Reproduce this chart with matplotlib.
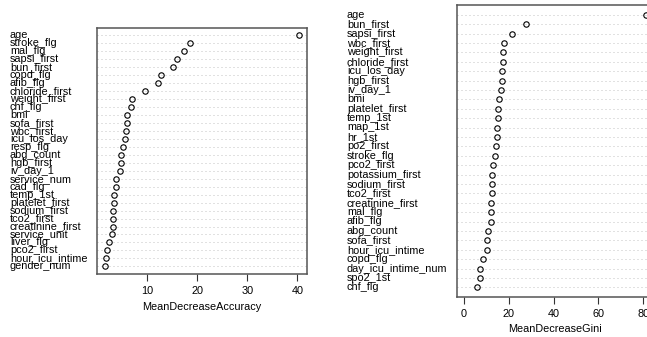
import matplotlib
matplotlib.use("Agg")
import matplotlib.pyplot as plt
import matplotlib.transforms as mtransforms

plt.rcParams['font.family'] = ['Liberation Sans', 'DejaVu Sans']

# MeanDecreaseAccuracy (top to bottom)
acc_names = ["age", "stroke_flg", "mal_flg", "sapsi_first", "bun_first", "copd_flg",
             "afib_flg", "chloride_first", "weight_first", "chf_flg", "bmi", "sofa_first",
             "wbc_first", "icu_los_day", "resp_flg", "abg_count", "hgb_first", "iv_day_1",
             "service_num", "cad_flg", "temp_1st", "platelet_first", "sodium_first",
             "tco2_first", "creatinine_first", "service_unit", "liver_flg", "pco2_first",
             "hour_icu_intime", "gender_num"]
acc_vals = [40.4, 18.5, 17.4, 16.0, 15.2, 12.8, 12.2, 9.5, 7.0, 6.7, 5.9, 5.9,
            5.8, 5.5, 5.1, 4.8, 4.7, 4.6, 3.8, 3.8, 3.3, 3.3, 3.2, 3.2, 3.1, 3.0,
            2.3, 1.9, 1.7, 1.5]

# MeanDecreaseGini (top to bottom)
gini_names = ["age", "bun_first", "sapsi_first", "wbc_first", "weight_first",
              "chloride_first", "icu_los_day", "hgb_first", "iv_day_1", "bmi",
              "platelet_first", "temp_1st", "map_1st", "hr_1st", "po2_first", "stroke_flg",
              "pco2_first", "potassium_first", "sodium_first", "tco2_first",
              "creatinine_first", "mal_flg", "afib_flg", "abg_count", "sofa_first",
              "hour_icu_intime", "copd_flg", "day_icu_intime_num", "spo2_1st", "chf_flg"]
gini_vals = [81.0, 27.8, 21.4, 17.9, 17.6, 17.4, 17.1, 17.0, 16.7, 15.6, 15.3, 15.0,
             14.9, 14.7, 14.4, 13.8, 12.8, 12.7, 12.4, 12.4, 12.2, 12.1, 12.1, 10.9,
             10.3, 10.2, 8.7, 7.2, 7.0, 5.7]

W, H = 647, 337
fig = plt.figure(figsize=(W / 100, H / 100), dpi=100)
fig.patch.set_facecolor('white')
FS = 7.85


def dotpanel(box, names, vals, xlim, xticks, xlabel, label_x):
    x0, y0, x1, y1 = box  # pixels, top-left origin
    ax = fig.add_axes([x0 / W, 1 - y1 / H, (x1 - x0) / W, (y1 - y0) / H])
    n = len(vals)
    ys = list(range(n, 0, -1))
    for y in ys:
        ax.axhline(y, color='#c4c4c4', lw=0.72, linestyle=(0, (1, 3)), zorder=1)
    ax.plot(vals, ys, linestyle='none', marker='o', markersize=3.9,
            markerfacecolor='none', markeredgecolor='black', markeredgewidth=0.8, zorder=3)
    ax.set_xlim(*xlim)
    ax.set_ylim(0, n + 1)
    ax.set_yticks([])
    ax.set_xticks(xticks)
    ax.tick_params(axis='x', direction='out', length=5, width=0.8, color='#333333',
                   labelsize=FS, pad=3.5)
    for s in ax.spines.values():
        s.set_color('#555555')
        s.set_linewidth(1.1)
    ax.set_xlabel(xlabel, fontsize=FS, labelpad=4)
    tr = mtransforms.blended_transform_factory(fig.transFigure, ax.transData)
    for nm, y in zip(names, ys):
        ax.text(label_x / W, y, nm, transform=tr, ha='left', va='center',
                fontsize=FS, clip_on=False)
    return ax


dotpanel((97, 27.5, 307, 274.3), acc_names, acc_vals, (-0.05, 41.95),
         [10, 20, 30, 40], "MeanDecreaseAccuracy", 10)
dotpanel((456.5, 5.3, 653, 296.7), gini_names, gini_vals, (-3.3, 84.3),
         [0, 20, 40, 60, 80], "MeanDecreaseGini", 347)

fig.savefig("out.png", dpi=100)
